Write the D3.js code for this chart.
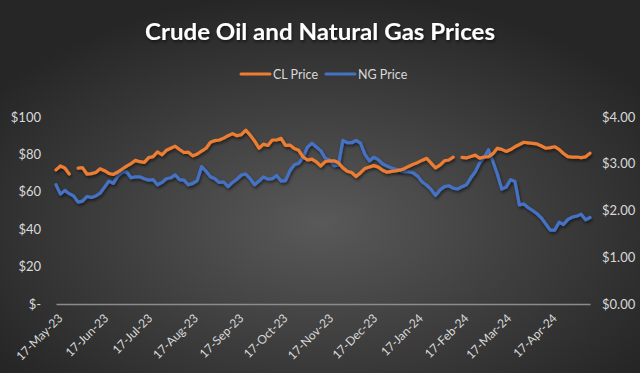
<!DOCTYPE html>
<html lang="en">
<head>
    <meta charset="UTF-8">
    <title>Crude Oil and Natural Gas Prices</title>
    <script src="https://d3js.org/d3.v7.min.js"></script>
    <style>
        body { margin: 0; background: #333; }
        text { font-family: Lato, "Open Sans", sans-serif; }
    </style>
</head>
<body>
    <div id="chart"></div>

    <script>
        // data, one value every 3 days from 17-May-23
        const startDate = "2023-05-17";
        const endDate = "2024-05-14";
        const dates = ["2023-05-17","2023-05-20","2023-05-23","2023-05-26","2023-05-29","2023-06-01","2023-06-04","2023-06-07","2023-06-10","2023-06-13",
            "2023-06-16","2023-06-19","2023-06-22","2023-06-25","2023-06-28","2023-07-01","2023-07-04","2023-07-07","2023-07-10","2023-07-13",
            "2023-07-16","2023-07-19","2023-07-22","2023-07-25","2023-07-28","2023-07-31","2023-08-03","2023-08-06","2023-08-09","2023-08-12",
            "2023-08-15","2023-08-18","2023-08-21","2023-08-24","2023-08-27","2023-08-30","2023-09-02","2023-09-05","2023-09-08","2023-09-11",
            "2023-09-14","2023-09-17","2023-09-20","2023-09-23","2023-09-26","2023-09-29","2023-10-02","2023-10-05","2023-10-08","2023-10-11",
            "2023-10-14","2023-10-17","2023-10-20","2023-10-23","2023-10-26","2023-10-29","2023-11-01","2023-11-04","2023-11-07","2023-11-10",
            "2023-11-13","2023-11-16","2023-11-19","2023-11-22","2023-11-25","2023-11-28","2023-12-01","2023-12-04","2023-12-07","2023-12-10",
            "2023-12-13","2023-12-16","2023-12-19","2023-12-22","2023-12-25","2023-12-28","2023-12-31","2024-01-03","2024-01-06","2024-01-09",
            "2024-01-12","2024-01-15","2024-01-18","2024-01-21","2024-01-24","2024-01-27","2024-01-30","2024-02-02","2024-02-05","2024-02-08",
            "2024-02-11","2024-02-14","2024-02-17","2024-02-20","2024-02-23","2024-02-26","2024-02-29","2024-03-03","2024-03-06","2024-03-09",
            "2024-03-12","2024-03-15","2024-03-18","2024-03-21","2024-03-24","2024-03-27","2024-03-30","2024-04-02","2024-04-05","2024-04-08",
            "2024-04-11","2024-04-14","2024-04-17","2024-04-20","2024-04-23","2024-04-26","2024-04-29","2024-05-02","2024-05-05","2024-05-08",
            "2024-05-11","2024-05-14"];

        // crude oil ($/bbl), null = missing day
        const clPrice = [71.7,73.8,72.7,69.5,null,72.7,72.9,69.5,69.7,70.3,
            72.3,71.3,69.8,69.3,70.6,72.2,73.7,75.1,76.8,76.1,
            75.7,78.3,78.8,81.3,79.8,82.2,83.3,84.4,82.6,81.0,
            81.2,79.2,80.2,81.8,83.3,86.5,87.4,87.7,88.7,90.0,
            91.1,90.0,90.6,93.0,90.3,87.2,83.3,85.5,84.8,87.7,
            87.7,88.6,84.8,85.0,83.1,82.2,78.6,77.0,77.5,76.0,
            73.8,76.2,76.5,76.6,75.5,72.8,71.0,70.3,68.2,70.2,
            72.5,73.3,74.0,73.3,71.5,70.5,70.9,71.2,71.7,72.5,
            73.7,74.8,75.7,76.9,77.9,75.3,72.8,74.2,76.6,77.0,
            78.5,null,78.4,78.1,78.9,79.6,78.0,78.6,78.8,80.4,
            83.3,82.7,81.6,82.6,84.1,85.3,86.5,86.2,85.9,85.6,
            84.5,83.3,83.6,84.1,82.7,80.5,78.8,78.5,78.6,78.3,
            78.7,80.6];

        // natural gas ($/MMBtu)
        const ngPrice = [2.55,2.35,2.43,2.36,2.31,2.18,2.20,2.30,2.28,2.31,
            2.37,2.50,2.63,2.58,2.74,2.82,2.83,2.70,2.72,2.72,
            2.68,2.65,2.66,2.55,2.60,2.68,2.70,2.76,2.66,2.65,
            2.55,2.58,2.64,2.94,2.84,2.72,2.68,2.60,2.61,2.51,
            2.60,2.67,2.76,2.78,2.68,2.55,2.63,2.72,2.67,2.68,
            2.75,2.63,2.64,2.85,2.98,3.01,3.14,3.36,3.44,3.36,
            3.28,3.12,3.08,2.96,2.97,3.50,3.45,3.45,3.50,3.44,
            3.20,3.06,3.14,3.09,3.00,2.95,2.91,2.88,2.85,2.83,
            2.83,2.80,2.73,2.61,2.54,2.45,2.32,2.44,2.51,2.53,
            2.48,2.46,2.51,2.55,2.70,2.83,3.02,3.13,3.30,3.05,
            2.78,2.46,2.50,2.66,2.62,2.12,2.14,2.06,2.00,1.93,
            1.84,1.71,1.58,1.58,1.75,1.70,1.81,1.86,1.88,1.92,
            1.80,1.85];

        const leftTicks = [0, 20, 40, 60, 80, 100];
        const rightTicks = [0, 1, 2, 3, 4];
        const monthTicks = ["2023-05-17","2023-06-17","2023-07-17","2023-08-17","2023-09-17","2023-10-17",
            "2023-11-17","2023-12-17","2024-01-17","2024-02-17","2024-03-17","2024-04-17"];
        const seriesNames = ["CL Price", "NG Price"];
        const seriesColors = ["#ED7D31", "#4472C4"];

        const width = 640, height = 373;
        const plot = {left: 56, right: 590, top: 117, bottom: 304};
        const parse = d3.timeParse("%Y-%m-%d");

        const svg = d3.select("#chart").append("svg")
            .attr("width", width)
            .attr("height", height);

        const defs = svg.append("defs");
        const grad = defs.append("radialGradient")
            .attr("id", "bg")
            .attr("cx", "50%").attr("cy", "60%").attr("r", "62%");
        grad.append("stop").attr("offset", "0%").attr("stop-color", "#595959");
        grad.append("stop").attr("offset", "100%").attr("stop-color", "#262626");

        const shadow = defs.append("filter")
            .attr("id", "shadow")
            .attr("x", "-10%").attr("y", "-10%").attr("width", "120%").attr("height", "130%");
        shadow.append("feDropShadow")
            .attr("dx", 1).attr("dy", 2).attr("stdDeviation", 1.5)
            .attr("flood-color", "#000").attr("flood-opacity", 0.55);

        svg.append("rect")
            .attr("width", width)
            .attr("height", height)
            .attr("fill", "url(#bg)");

        // scales
        const x = d3.scaleTime()
            .domain([parse(startDate), parse(endDate)])
            .range([plot.left, plot.right]);
        const yLeft = d3.scaleLinear().domain([0, 100]).range([plot.bottom, plot.top]);
        const yRight = d3.scaleLinear().domain([0, 4]).range([plot.bottom, plot.top]);

        // left axis
        const axisLeft = svg.append("g")
            .attr("transform", `translate(${plot.left - 15},0)`)
            .call(d3.axisLeft(yLeft).tickValues(leftTicks).tickSize(0)
                .tickFormat(d => d === 0 ? "$-" : "$" + d));
        axisLeft.select(".domain").remove();
        axisLeft.selectAll("text")
            .attr("x", 0)
            .attr("fill", "#d9d9d9")
            .style("font-size", "13px");

        // right axis
        const axisRight = svg.append("g")
            .attr("transform", `translate(${plot.right + 12},0)`)
            .call(d3.axisRight(yRight).tickValues(rightTicks).tickSize(0)
                .tickFormat(d => "$" + d3.format(".2f")(d)));
        axisRight.select(".domain").remove();
        axisRight.selectAll("text")
            .attr("x", 0)
            .attr("fill", "#d9d9d9")
            .style("font-size", "13px");

        // bottom axis
        const axisBottom = svg.append("g")
            .attr("transform", `translate(0,${plot.bottom})`)
            .call(d3.axisBottom(x).tickValues(monthTicks.map(parse)).tickSize(0)
                .tickFormat(d3.timeFormat("%d-%b-%y")));
        axisBottom.select(".domain")
            .attr("stroke", "#8c8c8c")
            .attr("stroke-width", 1.5);
        axisBottom.selectAll("text")
            .attr("fill", "#d9d9d9")
            .style("font-size", "12px")
            .attr("text-anchor", "end")
            .attr("y", 0)
            .attr("dy", "0.35em")
            .attr("transform", "translate(4,12) rotate(-45)");

        // lines
        const clData = dates.map((d, i) => ({date: parse(d), value: clPrice[i]}));
        const ngData = dates.map((d, i) => ({date: parse(d), value: ngPrice[i]}));

        const clLine = d3.line()
            .defined(d => d.value !== null)
            .x(d => x(d.date))
            .y(d => yLeft(d.value));
        const ngLine = d3.line()
            .defined(d => d.value !== null)
            .x(d => x(d.date))
            .y(d => yRight(d.value));

        svg.append("path")
            .datum(ngData)
            .attr("d", ngLine)
            .attr("fill", "none")
            .attr("stroke", seriesColors[1])
            .attr("stroke-width", 3.2)
            .attr("stroke-linejoin", "round")
            .attr("stroke-linecap", "round")
            .attr("filter", "url(#shadow)");

        svg.append("path")
            .datum(clData)
            .attr("d", clLine)
            .attr("fill", "none")
            .attr("stroke", seriesColors[0])
            .attr("stroke-width", 3.2)
            .attr("stroke-linejoin", "round")
            .attr("stroke-linecap", "round")
            .attr("filter", "url(#shadow)");

        // title
        svg.append("text")
            .attr("x", width / 2)
            .attr("y", 40)
            .attr("text-anchor", "middle")
            .attr("fill", "#ffffff")
            .style("font-size", "23px")
            .style("font-weight", "bold")
            .attr("textLength", 350)
            .attr("lengthAdjust", "spacingAndGlyphs")
            .attr("filter", "url(#shadow)")
            .text("Crude Oil and Natural Gas Prices");

        // legend
        const legendX = [241, 326];
        const legend = svg.append("g");
        seriesNames.forEach((name, i) => {
            legend.append("line")
                .attr("x1", legendX[i]).attr("x2", legendX[i] + 29)
                .attr("y1", 74).attr("y2", 74)
                .attr("stroke", seriesColors[i])
                .attr("stroke-width", 3)
                .attr("stroke-linecap", "round");
            legend.append("text")
                .attr("x", legendX[i] + 32)
                .attr("y", 78.5)
                .attr("fill", "#d9d9d9")
                .style("font-size", "12.5px")
                .text(name);
        });
    </script>
</body>
</html>
